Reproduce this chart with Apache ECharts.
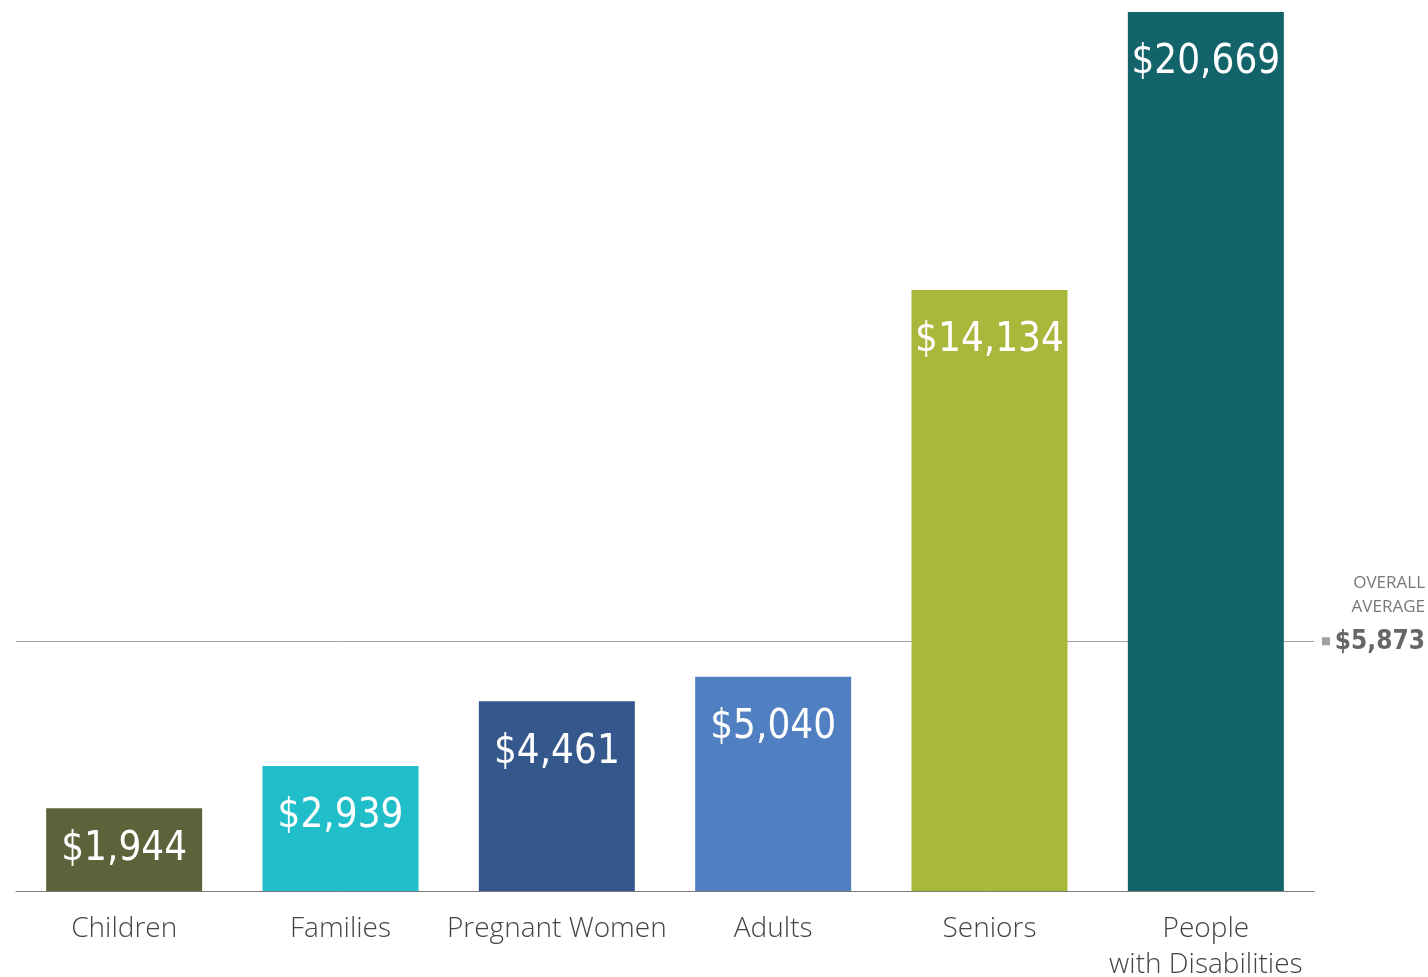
<!DOCTYPE html>
<html>
<head>
<meta charset="utf-8">
<script src="https://cdn.jsdelivr.net/npm/echarts@6/dist/echarts.min.js"></script>
<style>
  html, body { margin: 0; padding: 0; background: #fff; }
  #chart { width: 1428px; height: 977px; }
</style>
</head>
<body>
<div id="chart"></div>
<script>
const categories = ["Children", "Families", "Pregnant Women", "Adults", "Seniors", "People\nwith Disabilities"];
const values = [1944, 2939, 4461, 5040, 14134, 20669];
const barColors = ["#5a6339", "#1fbec8", "#34588c", "#5080c1", "#a9b73a", "#12636a"];
const overallAverage = 5873;

const money = v => "$" + v.toLocaleString("en-US");
const condensed = '"DejaVu Sans Condensed", "DejaVu Sans", sans-serif';

const chart = echarts.init(document.getElementById("chart"));
chart.setOption({
  animation: false,
  grid: { left: 16, right: 114, top: 12, bottom: 86, containLabel: false, outerBoundsMode: "none" },
  xAxis: {
    type: "category",
    data: categories,
    axisLine: { lineStyle: { color: "#7a7a7a", width: 1 } },
    axisTick: { show: false },
    axisLabel: {
      color: "#444",
      fontFamily: '"Open Sans", Lato, sans-serif',
      fontWeight: 300,
      fontSize: 28,
      lineHeight: 36,
      margin: 20,
      interval: 0
    }
  },
  yAxis: {
    type: "value",
    min: 0,
    max: "dataMax",
    show: false,
    splitLine: { show: false }
  },
  series: [{
    type: "bar",
    barWidth: 156,
    data: values.map((v, i) => ({
      value: v,
      itemStyle: { color: barColors[i] },
      label: i === 0 ? { position: "inside" } : undefined
    })),
    label: {
      show: true,
      position: "insideTop",
      distance: 31,
      color: "#fff",
      fontFamily: condensed,
      fontSize: 40,
      formatter: p => money(p.value)
    },
    markLine: {
      silent: true,
      z: 0,
      symbol: ["none", "rect"],
      symbolSize: [8, 8],
      symbolOffset: [[0, 0], [0, -12]],
      lineStyle: { color: "#a0a0a0", width: 1, type: "solid" },
      label: {
        show: true,
        position: "end",
        distance: 16,
        width: 95,
        align: "left",
        padding: [0, 0, 46, 0],
        formatter: () => "{a|OVERALL}\n{a|AVERAGE}\n{b|" + money(overallAverage) + "}",
        rich: {
          a: { fontSize: 17, color: "#777", fontFamily: '"Open Sans", sans-serif', lineHeight: 24, align: "right" },
          b: { fontSize: 26, color: "#666", fontWeight: "bold", fontFamily: condensed, lineHeight: 46, align: "right" }
        }
      },
      data: [{ yAxis: overallAverage }]
    }
  }]
});
</script>
</body>
</html>
